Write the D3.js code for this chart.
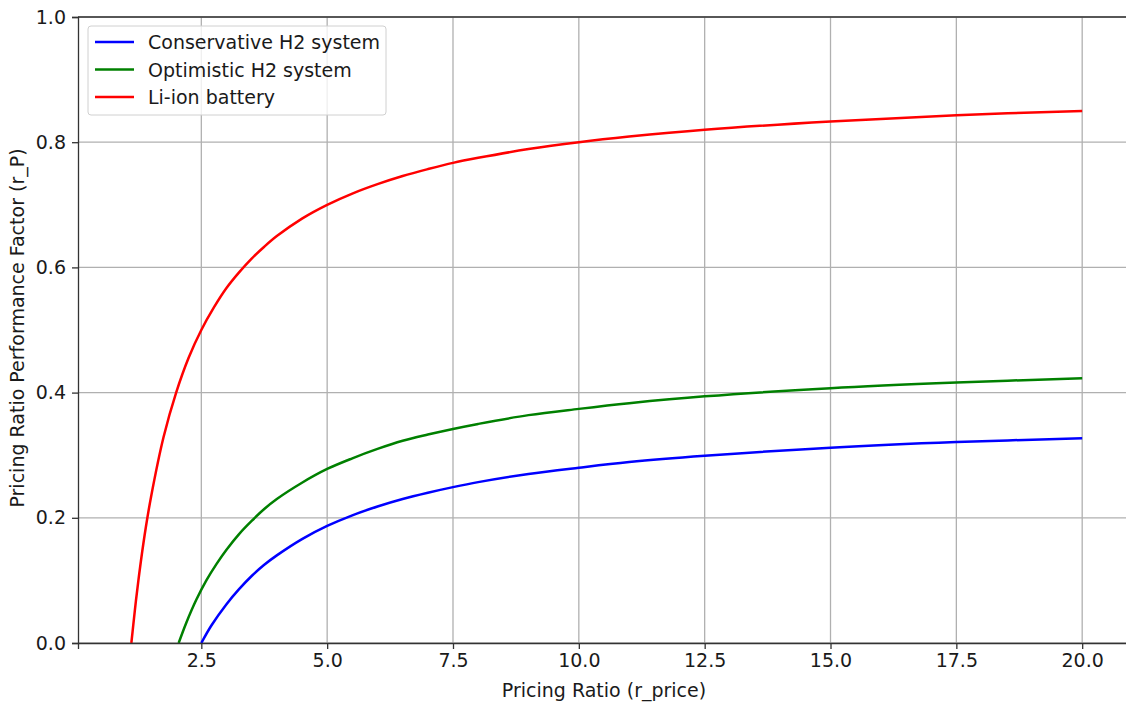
<!DOCTYPE html>
<html lang="en">
<head>
<meta charset="utf-8">
<title>Pricing Ratio Performance Factor</title>
<script src="https://cdnjs.cloudflare.com/ajax/libs/d3/7.8.5/d3.min.js"></script>
<style>
  body { margin: 0; background: #fff; }
  svg { display: block; font-family: "DejaVu Sans", sans-serif; }
  .grid line { stroke: #b0b0b0; stroke-width: 1.3; }
  .axis path, .axis line { stroke: #333; stroke-width: 1.3; }
  .axis text { font-size: 19px; fill: #1a1a1a; font-family: "DejaVu Sans", sans-serif; }
</style>
</head>
<body>
<div id="chart"></div>
<script>
// values (x = pricing ratio, y = r_P)
var conservativeX = [2.5, 2.7, 3.0, 3.25, 3.5, 3.75, 4.0, 4.5, 5, 5.5, 6, 6.5, 7, 7.5, 8, 9, 10, 11, 12.5, 15, 17.5, 20];
var conservativeY = [0, 0.028, 0.062, 0.086, 0.107, 0.125, 0.140, 0.166, 0.187, 0.204, 0.218, 0.230, 0.240, 0.249, 0.257, 0.270, 0.280, 0.289, 0.299, 0.312, 0.321, 0.327];

var optimisticX = [2.05, 2.2, 2.4, 2.6, 2.8, 3.0, 3.25, 3.5, 3.75, 4.0, 4.5, 5, 5.5, 6, 6.5, 7, 7.5, 8, 9, 10, 11, 12.5, 15, 17.5, 20];
var optimisticY = [0, 0.032, 0.069, 0.100, 0.126, 0.149, 0.174, 0.195, 0.214, 0.230, 0.256, 0.278, 0.295, 0.310, 0.323, 0.333, 0.342, 0.350, 0.364, 0.374, 0.383, 0.394, 0.407, 0.416, 0.423];

var liionX = [1.11, 1.15, 1.2, 1.25, 1.3, 1.4, 1.5, 1.75, 2.0, 2.25, 2.5, 2.75, 3.0, 3.25, 3.5, 3.75, 4.0, 4.5, 5, 5.5, 6, 6.5, 7, 7.5, 8, 9, 10, 11, 12.5, 15, 17.5, 20];
var liionY = [0, 0.030, 0.067, 0.100, 0.131, 0.186, 0.233, 0.329, 0.400, 0.456, 0.500, 0.536, 0.567, 0.592, 0.614, 0.633, 0.650, 0.678, 0.700, 0.718, 0.733, 0.746, 0.757, 0.767, 0.775, 0.789, 0.800, 0.809, 0.820, 0.833, 0.843, 0.850];

var seriesNames = ["Conservative H2 system", "Optimistic H2 system", "Li-ion battery"];
var seriesColors = ["#0000ff", "#008000", "#ff0000"];
var xTicks = [2.5, 5.0, 7.5, 10.0, 12.5, 15.0, 17.5, 20.0];
var yTicks = [0, 0.2, 0.4, 0.6, 0.8, 1.0];

var series = [
  { name: seriesNames[0], color: seriesColors[0], pts: d3.zip(conservativeX, conservativeY) },
  { name: seriesNames[1], color: seriesColors[1], pts: d3.zip(optimisticX, optimisticY) },
  { name: seriesNames[2], color: seriesColors[2], pts: d3.zip(liionX, liionY) }
];

var W = 1126, H = 704;
var margin = { top: 17, left: 78, bottom: 61 },
    plotRight = 1130,
    width = plotRight - margin.left,
    height = H - margin.top - margin.bottom;

var svg = d3.select("#chart").append("svg")
    .attr("width", W).attr("height", H)
    .style("overflow", "hidden");

var g = svg.append("g").attr("transform", "translate(" + margin.left + "," + margin.top + ")");

var x = d3.scaleLinear().domain([0.05, 20.95]).range([0, width]);
var y = d3.scaleLinear().domain([0, 1]).range([height, 0]);

// grid
g.append("g").attr("class", "grid")
  .selectAll("line").data(xTicks).enter().append("line")
  .attr("x1", function(d) { return x(d); }).attr("x2", function(d) { return x(d); })
  .attr("y1", 0).attr("y2", height);
g.append("g").attr("class", "grid")
  .selectAll("line").data(yTicks).enter().append("line")
  .attr("y1", function(d) { return y(d); }).attr("y2", function(d) { return y(d); })
  .attr("x1", 0).attr("x2", width);

// curves
var line = d3.line()
  .x(function(d) { return x(d[0]); })
  .y(function(d) { return y(d[1]); })
  .curve(d3.curveCatmullRom.alpha(0.5));

g.append("clipPath").attr("id", "clip")
  .append("rect").attr("width", width).attr("height", height);

g.append("g").attr("clip-path", "url(#clip)")
  .selectAll("path").data(series).enter().append("path")
  .attr("d", function(d) { return line(d.pts); })
  .attr("fill", "none")
  .attr("stroke", function(d) { return d.color; })
  .attr("stroke-width", 2.5);

// axes
g.append("g").attr("class", "axis")
  .attr("transform", "translate(0," + height + ")")
  .call(d3.axisBottom(x).tickValues(xTicks).tickFormat(d3.format(".1f")).tickSizeOuter(0).tickSize(6).tickPadding(5));
g.append("g").attr("class", "axis")
  .call(d3.axisLeft(y).tickValues(yTicks).tickFormat(d3.format(".1f")).tickSizeOuter(0).tickSize(6).tickPadding(6));

// top and right spines
g.append("line").attr("x1", 0).attr("x2", width).attr("y1", 0).attr("y2", 0)
  .attr("stroke", "#333").attr("stroke-width", 1.3);
g.append("line").attr("x1", width).attr("x2", width).attr("y1", 0).attr("y2", height)
  .attr("stroke", "#333").attr("stroke-width", 1.3);

// axis labels
svg.append("text")
  .attr("x", margin.left + x(10.5)).attr("y", 697)
  .attr("text-anchor", "middle").style("font-size", "19px").attr("fill", "#1a1a1a")
  .text("Pricing Ratio (r_price)");
svg.append("text")
  .attr("transform", "translate(24," + (margin.top + height / 2 - 2) + ") rotate(-90)")
  .attr("text-anchor", "middle").style("font-size", "19px").attr("fill", "#1a1a1a")
  .text("Pricing Ratio Performance Factor (r_P)");

// legend
var legend = g.append("g").attr("transform", "translate(10,9)");
legend.append("rect")
  .attr("width", 298).attr("height", 89).attr("rx", 3)
  .attr("fill", "#fff").attr("fill-opacity", 0.8)
  .attr("stroke", "#d0d0d0").attr("stroke-width", 1);
var items = legend.selectAll(".item").data(series).enter().append("g")
  .attr("transform", function(d, i) { return "translate(0," + (16 + i * 27.5) + ")"; });
items.append("line")
  .attr("x1", 7).attr("x2", 46).attr("y1", 0).attr("y2", 0)
  .attr("stroke", function(d) { return d.color; }).attr("stroke-width", 2.5);
items.append("text")
  .attr("x", 60).attr("y", 7)
  .style("font-size", "19px").attr("fill", "#1a1a1a")
  .text(function(d) { return d.name; });
</script>
</body>
</html>
